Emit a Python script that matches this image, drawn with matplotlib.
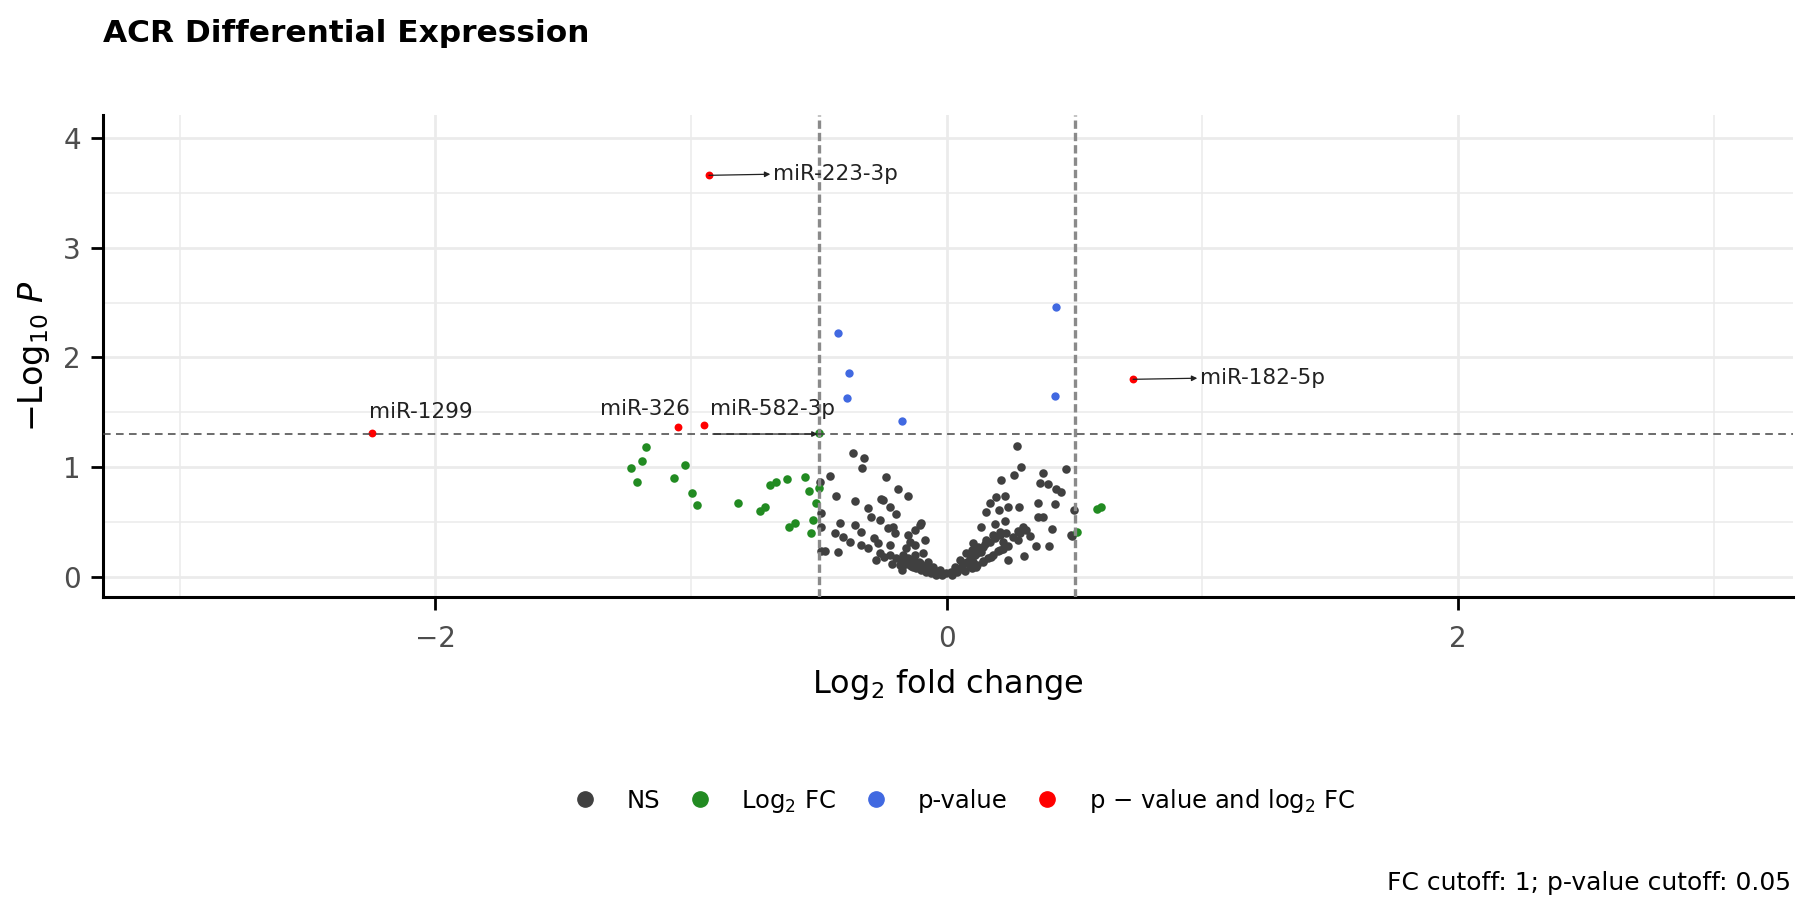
import matplotlib
matplotlib.use('Agg')
import matplotlib.pyplot as plt
from matplotlib.lines import Line2D

# data (log2 fold change, -log10 p)
ns_x = [-0.367, -0.324, -0.332, -0.455, -0.494, -0.236, -0.190, -0.151, -0.432, -0.360,
        -0.256, -0.223, -0.197, -0.308, -0.295, -0.490, -0.416, -0.360, -0.334, -0.262,
        -0.230, -0.204, -0.438, -0.406, -0.380, -0.334, -0.308, -0.269, -0.262, -0.223,
        -0.477, -0.425, -0.151, -0.125, -0.106, -0.086, -0.158, -0.158, -0.125, -0.093,
        -0.073, -0.054, -0.027, -0.001, -0.184, -0.132, -0.106, -0.080, -0.047, -0.275,
        -0.223, -0.249, -0.212, -0.102, -0.125, -0.145, -0.493, -0.490, -0.170, -0.150,
        -0.130, -0.110, -0.090, -0.070, -0.050, -0.030, -0.020, -0.140, -0.120, -0.100,
        -0.080, -0.060, -0.040, -0.160, -0.180, -0.200, -0.285, -0.245, -0.215, -0.175,
        0.273, 0.290, 0.262, 0.214, 0.375, 0.465, 0.364, 0.397, 0.429, 0.446,
        0.227, 0.194, 0.168, 0.205, 0.240, 0.282, 0.155, 0.357, 0.423, 0.498,
        0.357, 0.377, 0.227, 0.136, 0.188, 0.286, 0.312, 0.325, 0.412, 0.485,
        0.279, 0.220, 0.351, 0.399, 0.303, 0.207, 0.103, 0.123, 0.155, 0.181,
        0.207, 0.077, 0.097, 0.136, 0.175, 0.051, 0.070, 0.103, 0.142, 0.031,
        0.018, 0.044, 0.090, 0.116, 0.020, 0.040, 0.050, 0.060, 0.080, 0.090,
        0.100, 0.110, 0.120, 0.130, 0.140, 0.150, 0.070, 0.100, 0.120, 0.140,
        0.160, 0.180, 0.200, 0.220, 0.240, 0.170, 0.190, 0.210, 0.230, 0.260,
        0.280, 0.300, 0.491, 0.240]
ns_y = [1.131, 1.080, 0.989, 0.922, 0.867, 0.907, 0.800, 0.739, 0.739, 0.691,
        0.709, 0.639, 0.572, 0.624, 0.547, 0.584, 0.493, 0.472, 0.411, 0.517,
        0.442, 0.396, 0.396, 0.365, 0.314, 0.289, 0.259, 0.305, 0.214, 0.289,
        0.237, 0.228, 0.380, 0.426, 0.472, 0.335, 0.259, 0.152, 0.198, 0.214,
        0.137, 0.091, 0.061, 0.031, 0.107, 0.091, 0.122, 0.061, 0.031, 0.152,
        0.198, 0.700, 0.450, 0.487, 0.290, 0.320, 0.450, 0.237, 0.200, 0.170,
        0.150, 0.130, 0.100, 0.080, 0.060, 0.040, 0.020, 0.100, 0.080, 0.060,
        0.040, 0.030, 0.015, 0.120, 0.140, 0.170, 0.350, 0.180, 0.120, 0.060,
        1.193, 0.998, 0.928, 0.882, 0.943, 0.980, 0.858, 0.843, 0.797, 0.776,
        0.736, 0.724, 0.670, 0.609, 0.633, 0.639, 0.593, 0.675, 0.663, 0.609,
        0.547, 0.547, 0.511, 0.456, 0.481, 0.396, 0.426, 0.371, 0.435, 0.380,
        0.335, 0.314, 0.280, 0.280, 0.189, 0.244, 0.305, 0.274, 0.335, 0.380,
        0.411, 0.214, 0.244, 0.228, 0.183, 0.152, 0.122, 0.137, 0.137, 0.091,
        0.046, 0.061, 0.107, 0.091, 0.020, 0.040, 0.080, 0.100, 0.130, 0.160,
        0.180, 0.200, 0.220, 0.250, 0.270, 0.300, 0.050, 0.080, 0.110, 0.140,
        0.170, 0.200, 0.230, 0.250, 0.280, 0.320, 0.350, 0.380, 0.400, 0.360,
        0.420, 0.450, 0.374, 0.150]

fc_x = [-1.175, -1.192, -1.234, -1.211, -1.025, -1.068, -0.997, -0.976, -0.817, -0.732,
        -0.710, -0.690, -0.667, -0.625, -0.553, -0.540, -0.500, -0.510, -0.523, -0.617,
        -0.595, -0.530, -0.500, 0.586, 0.605, 0.508]
fc_y = [1.186, 1.058, 0.989, 0.867, 1.019, 0.898, 0.767, 0.654, 0.670, 0.600,
        0.639, 0.837, 0.867, 0.891, 0.907, 0.782, 0.812, 0.670, 0.517, 0.456,
        0.493, 0.396, 1.308, 0.615, 0.639, 0.405]

p_x = [-0.425, -0.383, -0.390, -0.175, 0.429, 0.424]
p_y = [2.22, 1.856, 1.633, 1.423, 2.458, 1.649]

both_x = [-0.93, 0.729, -2.248, -1.051, -0.950]
both_y = [3.66, 1.80, 1.314, 1.369, 1.384]
both_labels = ['miR-223-3p', 'miR-182-5p', 'miR-1299', 'miR-326', 'miR-582-3p']
label_xy = [(-0.68, 3.67), (0.99, 1.81), (-2.26, 1.50), (-1.005, 1.53), (-0.925, 1.53)]
label_ha = ['left', 'left', 'left', 'right', 'left']
label_arrow = [True, True, False, False, False]

fc_cut = 0.5
p_cut = 1.30103

fig = plt.figure(figsize=(18, 9.06), dpi=100)
ax = fig.add_axes([103 / 1800, 1 - 597 / 906, 1690 / 1800, 482 / 906])

ax.scatter(ns_x, ns_y, s=38, color='#404040', zorder=3, linewidths=0)
ax.scatter(fc_x, fc_y, s=38, color='#228B22', zorder=3, linewidths=0)
ax.scatter(p_x, p_y, s=36, color='#4169E1', zorder=3, linewidths=0)
ax.scatter(both_x, both_y, s=32, color='#FF0000', zorder=3, linewidths=0)

# cutoff lines
for v in (-fc_cut, fc_cut):
    ax.axvline(v, color='#8a8a8a', lw=2.4, dashes=(2.5, 1.2), zorder=4)
ax.axhline(p_cut, color='#444444', lw=1.1, dashes=(5, 3.5), zorder=4)

# labels with connectors
for (px, py, lab, (tx, ty), ha, arr) in zip(both_x, both_y, both_labels, label_xy, label_ha, label_arrow):
    ax.text(tx, ty, lab, ha=ha, va='center', fontsize=15.5, color='#222222', zorder=5)
    if arr:
        ax.annotate('', xy=(tx - 0.01, ty), xytext=(px, py),
                    arrowprops=dict(arrowstyle='-|>', color='#222222', lw=0.9,
                                    mutation_scale=8, shrinkA=0, shrinkB=0), zorder=5)
ax.annotate('', xy=(-0.505, p_cut), xytext=(-0.915, p_cut),
            arrowprops=dict(arrowstyle='-|>', color='#222222', lw=0.9,
                            mutation_scale=8, shrinkA=0, shrinkB=0), zorder=5)

ax.set_xlim(-3.3, 3.31)
ax.set_ylim(-0.185, 4.21)
ax.set_xticks([-2, 0, 2])
ax.set_xticks([-3, -1, 1, 3], minor=True)
ax.set_yticks([0, 1, 2, 3, 4])
ax.set_yticks([0.5, 1.5, 2.5, 3.5], minor=True)
ax.grid(which='major', color='#ebebeb', lw=2.0, zorder=0)
ax.grid(which='minor', color='#ebebeb', lw=1.1, zorder=0)
ax.set_axisbelow(True)
for side in ('top', 'right'):
    ax.spines[side].set_visible(False)
for side in ('left', 'bottom'):
    ax.spines[side].set_linewidth(2.2)
    ax.spines[side].set_color('black')
ax.tick_params(which='major', length=9, width=2, color='black', labelsize=20,
               labelcolor='#4d4d4d')
ax.tick_params(axis='x', pad=11)
ax.tick_params(axis='y', pad=7)
ax.tick_params(which='minor', length=0)

ax.set_xlabel('Log$_2$ fold change', fontsize=23, labelpad=10)
ax.set_ylabel(r'$-$Log$_{10}$ $\it{P}$', fontsize=24, labelpad=8)

fig.text(103 / 1800, 1 - 42 / 906, 'ACR Differential Expression', fontsize=22.5,
         fontweight='bold', ha='left', va='baseline')

# legend
handles = [Line2D([], [], ls='', marker='o', ms=11, color=c)
           for c in ['#404040', '#228B22', '#4169E1', '#FF0000']]
names = ['NS', 'Log$_2$ FC', 'p-value', 'p \u2212 value and log$_2$ FC']
fig.legend(handles, names, loc='center', bbox_to_anchor=(958 / 1800, 1 - 801 / 906),
           ncol=4, frameon=False, fontsize=17.5, handletextpad=0.7, columnspacing=0.65)

fig.text(1791 / 1800, 1 - 890 / 906, 'FC cutoff: 1; p-value cutoff: 0.05', fontsize=18,
         ha='right', va='baseline')

fig.savefig('out.png', dpi=100, facecolor='white')
